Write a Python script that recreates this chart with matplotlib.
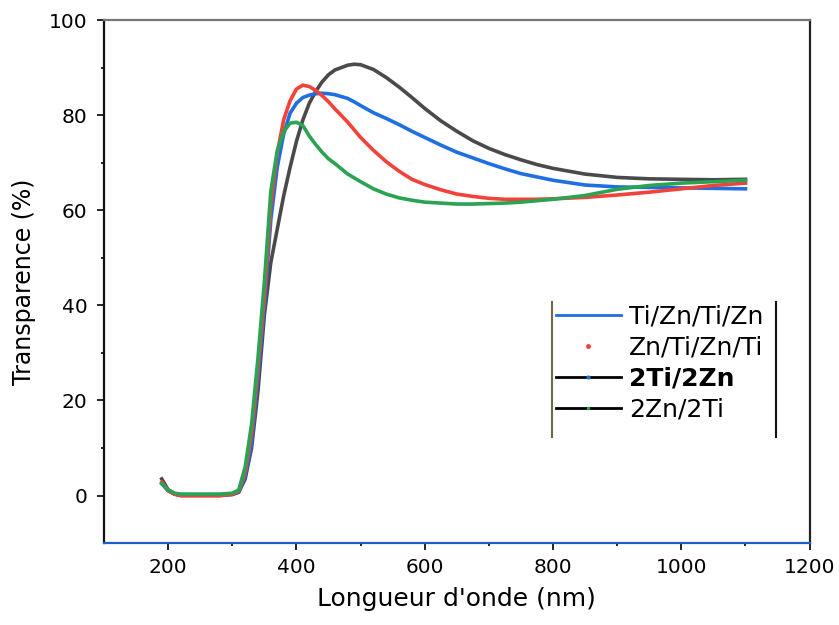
import matplotlib
matplotlib.use("Agg")
import matplotlib.pyplot as plt
from matplotlib.lines import Line2D

# longueur d'onde (nm)
wavelength = [190, 200, 210, 220, 250, 280, 300, 310, 320, 330, 340, 350, 360, 370, 380,
              390, 400, 410, 420, 430, 440, 450, 460, 480, 490, 500, 520, 540, 560, 580,
              600, 625, 650, 675, 700, 725, 750, 775, 800, 850, 900, 950, 1000, 1050, 1100]

t_ti_zn_ti_zn = [2.5, 1.0, 0.3, 0.2, 0.2, 0.2, 0.3, 0.8, 4, 11, 25, 40, 58, 69, 76,
                 80.4, 82.5, 83.7, 84.2, 84.5, 84.6, 84.5, 84.3, 83.5, 82.8, 82.0, 80.5, 79.3, 78.0, 76.6,
                 75.3, 73.7, 72.2, 71.0, 69.8, 68.7, 67.7, 67.0, 66.3, 65.3, 64.9, 64.8, 64.7, 64.6, 64.5]

t_zn_ti_zn_ti = [2.8, 1.0, 0.3, 0.0, 0.0, 0.0, 0.3, 1.0, 5, 13, 27, 42, 61, 72, 79,
                 83, 85.5, 86.3, 86.0, 85.2, 84.1, 82.8, 81.3, 78.5, 76.9, 75.3, 72.6, 70.2, 68.2, 66.5,
                 65.4, 64.3, 63.4, 62.9, 62.5, 62.3, 62.3, 62.3, 62.4, 62.7, 63.2, 63.8, 64.5, 65.2, 65.7]

t_2ti_2zn = [3.5, 1.2, 0.3, 0.0, 0.0, 0.0, 0.2, 0.7, 3.5, 10, 22, 38, 49, 56, 63,
             69, 74.5, 79, 82.5, 85, 87, 88.5, 89.5, 90.5, 90.7, 90.6, 89.6, 87.9, 85.9, 83.7,
             81.4, 78.8, 76.6, 74.6, 73.0, 71.7, 70.6, 69.6, 68.8, 67.6, 66.9, 66.6, 66.5, 66.4, 66.5]

t_2zn_2ti = [2.5, 1.2, 0.5, 0.3, 0.3, 0.3, 0.5, 1.2, 6, 15, 29, 45, 64, 72.5, 76.5,
             78.3, 78.5, 77.8, 75.6, 73.8, 72.2, 70.8, 69.8, 67.6, 66.8, 66.0, 64.5, 63.4, 62.6, 62.1,
             61.7, 61.5, 61.3, 61.3, 61.4, 61.5, 61.7, 62.0, 62.3, 63.1, 64.4, 65.2, 65.7, 66.0, 66.3]

labels = ["Ti/Zn/Ti/Zn", "Zn/Ti/Zn/Ti", "2Ti/2Zn", "2Zn/2Ti"]
xticks = [200, 400, 600, 800, 1000, 1200]
yticks = [0, 20, 40, 60, 80, 100]

c_blue = "#1f6fe0"
c_red = "#f2423a"
c_gray = "#4a4a4a"
c_green = "#2aa352"

fig = plt.figure(figsize=(8.39, 6.25), dpi=100)
ax = fig.add_axes([0.124, 0.131, 0.841, 0.837])

ax.plot(wavelength, t_2ti_2zn, color=c_gray, lw=2.6)
ax.plot(wavelength, t_ti_zn_ti_zn, color=c_blue, lw=2.6)
ax.plot(wavelength, t_zn_ti_zn_ti, color=c_red, lw=2.6)
ax.plot(wavelength, t_2zn_2ti, color=c_green, lw=2.6)

ax.set_xlim(100, 1200)
ax.set_ylim(-10, 100)
ax.set_xticks(xticks)
ax.set_yticks(yticks)
ax.set_xticks([300, 500, 700, 900, 1100], minor=True)
ax.set_yticks([10, 30, 50, 70, 90], minor=True)
ax.tick_params(which="major", direction="out", length=5, width=1.2, labelsize=14.5, pad=6)
ax.tick_params(axis="y", which="major", pad=7)
ax.tick_params(which="minor", direction="out", length=2, width=1.2)

ax.spines["left"].set_color("#111111")
ax.spines["bottom"].set_color("#1f5fbf")
ax.spines["top"].set_color("#777777")
ax.spines["right"].set_color("#222222")
for s in ax.spines.values():
    s.set_linewidth(1.6)

ax.set_xlabel("Longueur d'onde (nm)", fontsize=18, labelpad=7)
ax.set_ylabel("Transparence (%)", fontsize=17, labelpad=9)

handles = [
    Line2D([], [], color=c_blue, lw=2),
    Line2D([], [], ls="none", marker=".", color=c_red, ms=5),
    Line2D([], [], color="black", lw=2, marker=".", mfc=c_blue, mec=c_blue, ms=4),
    Line2D([], [], color="black", lw=2, marker=".", mfc=c_green, mec=c_green, ms=3),
]
leg = ax.legend(handles, labels, loc="upper left", bbox_to_anchor=(0.635, 0.463),
                frameon=False, fontsize=18, borderaxespad=0, borderpad=0.15,
                handlelength=2.6, handletextpad=0.32, labelspacing=0.28)
leg.get_texts()[2].set_fontweight("bold")

# bords verticaux de la légende
ax.plot([0.635, 0.635], [0.203, 0.461], transform=ax.transAxes, color="#6b6b4a", lw=1.5, clip_on=False)
ax.plot([0.953, 0.953], [0.203, 0.461], transform=ax.transAxes, color="#111111", lw=1.5, clip_on=False)

fig.savefig("out.png", dpi=100)
